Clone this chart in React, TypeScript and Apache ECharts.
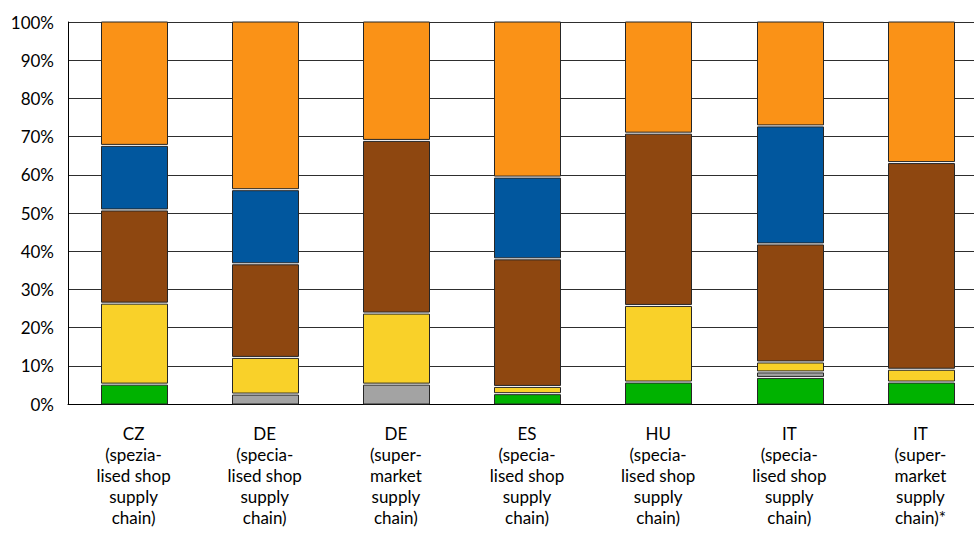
import React, { useEffect, useRef } from "react";
import * as echarts from "echarts";

const categories = [
  "CZ\n(spezia-\nlised shop\nsupply\nchain)",
  "DE\n(specia-\nlised shop\nsupply\nchain)",
  "DE\n(super-\nmarket\nsupply\nchain)",
  "ES\n(specia-\nlised shop\nsupply\nchain)",
  "HU\n(specia-\nlised shop\nsupply\nchain)",
  "IT\n(specia-\nlised shop\nsupply\nchain)",
  "IT\n(super-\nmarket\nsupply\nchain)*",
];

// shares in percent, bottom to top
const green = [5.2, 0, 0, 2.7, 5.75, 6.96, 5.75];
const grey = [0, 2.6, 5.2, 0, 0, 1.44, 0];
const yellow = [21.2, 9.6, 18.6, 1.9, 20.05, 2.6, 3.35];
const brown = [24.4, 24.5, 45.2, 33.4, 45.1, 30.9, 54.1];
const blue = [16.9, 19.4, 0, 21.4, 0, 30.9, 0];
const orange = [32.3, 43.9, 31.0, 40.6, 29.1, 27.2, 36.8];

const yTicks = [0, 10, 20, 30, 40, 50, 60, 70, 80, 90, 100];

const seriesDefs = [
  { name: "green", values: green, color: "#00B200" },
  { name: "grey", values: grey, color: "#A3A3A3" },
  { name: "yellow", values: yellow, color: "#F9D129" },
  { name: "brown", values: brown, color: "#8E4710" },
  { name: "blue", values: blue, color: "#01579E" },
  { name: "orange", values: orange, color: "#FA9217" },
];

export default function App() {
  const ref = useRef<HTMLDivElement>(null);

  useEffect(() => {
    if (!ref.current) return;
    const chart = echarts.init(ref.current, undefined, { renderer: "svg" });

    const cum = categories.map(() => 0);
    const series = seriesDefs.map((def) => {
      const data = def.values.map((v, i) => {
        const s = cum[i];
        const e = s + v;
        cum[i] = e;
        return [i, s, e];
      });
      return {
        type: "custom",
        name: def.name,
        encode: { x: 0, y: [1, 2] },
        data,
        renderItem: (params: any, api: any) => {
          const idx = api.value(0);
          const s = api.value(1);
          const e = api.value(2);
          if (e - s <= 0) return null;
          const pTop = api.coord([idx, e]);
          const pBot = api.coord([idx, s]);
          const bw = api.size([1, 0])[0] * 0.5;
          const top = pTop[1] + (e < 99.99 ? 1 : 0);
          const bottom = pBot[1] - (s > 0.01 ? 1 : 0);
          return {
            type: "rect",
            shape: {
              x: Math.round(pTop[0] - bw / 2) + 0.5,
              y: top,
              width: Math.round(bw),
              height: Math.max(bottom - top, 0.5),
            },
            style: { fill: def.color, stroke: "#262626", lineWidth: 1 },
          };
        },
      };
    });

    chart.setOption({
      animation: false,
      backgroundColor: "#ffffff",
      grid: { left: 68, top: 22, width: 918, height: 382, containLabel: false },
      xAxis: {
        type: "category",
        data: categories,
        boundaryGap: true,
        axisLine: { show: true, lineStyle: { color: "#000", width: 1 } },
        axisTick: { show: false },
        axisLabel: {
          interval: 0,
          color: "#000",
          fontFamily: "Lato",
          fontSize: 17,
          lineHeight: 21,
          margin: 19,
          align: "center",
        },
      },
      yAxis: {
        type: "value",
        min: yTicks[0],
        max: yTicks[yTicks.length - 1],
        interval: 10,
        axisLine: { show: true, lineStyle: { color: "#000", width: 1 } },
        axisTick: { show: false },
        splitLine: { show: true, lineStyle: { color: "#2e2e2e", width: 1 } },
        axisLabel: {
          color: "#000",
          fontFamily: "Lato",
          fontSize: 17,
          margin: 14,
          formatter: "{value}%",
        },
      },
      series,
    });

    return () => chart.dispose();
  }, []);

  return (
    <div style={{ width: 974, height: 534, position: "absolute", left: 0, top: 0, overflow: "hidden", background: "#fff" }}>
      <div ref={ref} style={{ width: 1000, height: 534 }} />
    </div>
  );
}
